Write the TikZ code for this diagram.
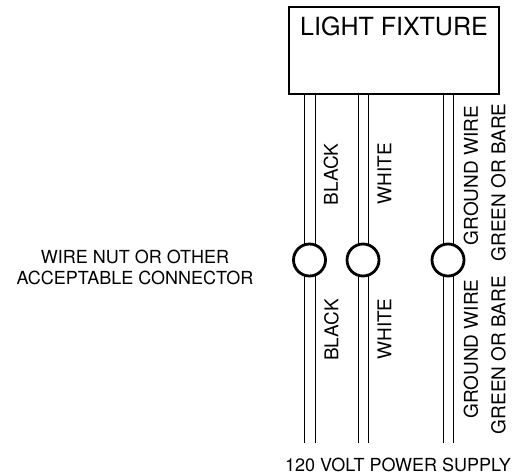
\documentclass[tikz,border=0pt]{standalone}
\usepackage{fontspec}
\setmainfont{TeX Gyre Heros}
\usetikzlibrary{positioning, backgrounds}
\newcommand{\lbl}{\fontsize{18}{21}\selectfont}
\newcommand{\wirelbl}{\fontsize{19}{22}\selectfont}

\begin{document}
\begin{tikzpicture}[x=1pt, y=-1pt, line width=2.8pt,
    wirenut/.style={circle, draw, fill=white, minimum size=32pt, inner sep=0pt},
    wirelabel/.style={rotate=90, inner sep=0pt, font=\wirelbl}]
    \useasboundingbox (0,0) rectangle (529,474);
    \node (fixture) at (394,50.5) [rectangle, draw, minimum width=210pt, minimum height=87pt] {};
    \node (fixturetext) [below=10pt of fixture.north, inner sep=0pt, font=\fontsize{25}{30}\selectfont] {LIGHT FIXTURE};
    \node (nutblack)  at (309.5,260) [wirenut] {};
    \node (nutwhite)  at (363,260)   [wirenut] {};
    \node (nutground) at (448,260)   [wirenut] {};
    \coordinate (supplyline) at (0,443);
    \node (connector) at (135,267) [align=center, inner sep=0pt, font=\lbl] {WIRE NUT OR OTHER\\ACCEPTABLE CONNECTOR};
    \node (supply) at (398,465) [inner sep=0pt, font=\lbl] {120 VOLT POWER SUPPLY};
    % upper labels
    \node (blackup)   at (331,174.5) [wirelabel] {BLACK};
    \node (whiteup)   at (384.5,173.5) [wirelabel] {WHITE};
    \node (groundup)  at (471,175.5) [wirelabel] {GROUND WIRE};
    \node (greenup)   at (498.5,182.5) [wirelabel] {GREEN OR BARE};
    % lower labels
    \node (blackdown)  at (331.5,330) [wirelabel] {BLACK};
    \node (whitedown)  at (384.5,329) [wirelabel] {WHITE};
    \node (grounddown) at (471,349) [wirelabel] {GROUND WIRE};
    \node (greendown)  at (498.5,355) [wirelabel] {GREEN OR BARE};
    % wires, behind the nuts
    \begin{scope}[on background layer]
    \draw ([xshift=-5.5pt]nutblack.center |- fixture.south) -- ([xshift=-5.5pt]nutblack.center |- supplyline);
    \draw ([xshift=5.5pt]nutblack.center |- fixture.south) -- ([xshift=5.5pt]nutblack.center |- supplyline);
    \draw ([xshift=-5pt]nutwhite.center |- fixture.south) -- ([xshift=-5pt]nutwhite.center |- supplyline);
    \draw ([xshift=5pt]nutwhite.center |- fixture.south) -- ([xshift=5pt]nutwhite.center |- supplyline);
    \draw ([xshift=-5pt]nutground.center |- fixture.south) -- ([xshift=-5pt]nutground.center |- supplyline);
    \draw ([xshift=5pt]nutground.center |- fixture.south) -- ([xshift=5pt]nutground.center |- supplyline);
    \end{scope}
\end{tikzpicture}
\end{document}
